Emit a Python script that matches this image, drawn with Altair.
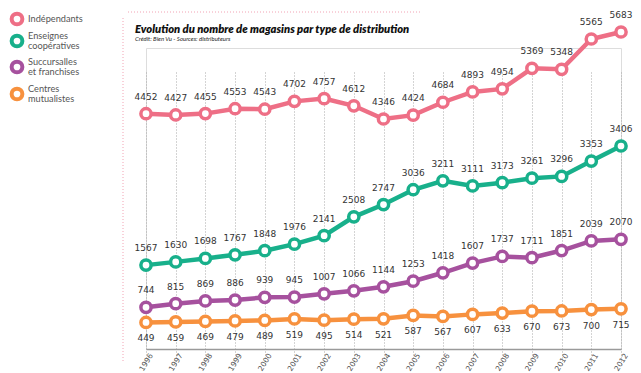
import altair as alt
import pandas as pd

years = list(range(1996, 2013))
series = ["Indépendants", "Enseignes coopératives", "Succursalles et franchises", "Centres mutualistes"]
colors = ["#ee6f86", "#18b08b", "#a6519e", "#f7913e"]

independants = [4452, 4427, 4455, 4553, 4543, 4702, 4757, 4612, 4346, 4424, 4684, 4893, 4954, 5369, 5348, 5565, 5683]
cooperatives = [1567, 1630, 1698, 1767, 1848, 1976, 2141, 2508, 2747, 3036, 3211, 3111, 3173, 3261, 3296, 3353, 3406]
succursales = [744, 815, 869, 886, 939, 945, 1007, 1066, 1144, 1253, 1418, 1607, 1737, 1711, 1851, 2039, 2070]
mutualistes = [449, 459, 469, 479, 489, 519, 495, 514, 521, 587, 567, 607, 633, 670, 673, 700, 715]

TITLE = "Evolution du nombre de magasins par type de distribution"
SUBTITLE = "Crédit: Bien Vu - Sources: distributeurs"

rows = []
for name, vals in zip(series, [independants, cooperatives, succursales, mutualistes]):
    for y, v in zip(years, vals):
        rows.append({"annee": y, "serie": name, "valeur": v})
df = pd.DataFrame(rows)
legend_df = pd.DataFrame({"serie": series, "rang": list(range(len(series)))})

xs = alt.X("annee:Q", scale=alt.Scale(domain=[1996, 2012], nice=False, zero=False),
           axis=alt.Axis(values=years, format="d", labelAngle=-58, grid=True,
                         gridDash=[1, 2], gridColor="#a8a8a8", gridWidth=1,
                         domainColor="#9a9a9a", domainWidth=1.5, ticks=False, tickSize=0,
                         labelFontSize=7.5, labelColor="#505050", labelFont="DejaVu Sans",
                         labelAlign="center", labelBaseline="middle",
                         labelPadding=13, title=None))
# the original infographic is drawn on a slightly uneven vertical scale
ys = alt.Y("valeur:Q", axis=None,
           scale=alt.Scale(domain=[400, 3300, 3406, 4346, 5369, 5565, 5683],
                           range=[277, 128.2, 98, 71, 20.3, -9, -16]))
stroke = alt.Stroke("serie:N", scale=alt.Scale(domain=series, range=colors), legend=None)

base = alt.Chart(df)
lines = base.mark_line(strokeWidth=4.5).encode(x=xs, y=ys, stroke=stroke)
points = base.mark_point(filled=True, fill="white", strokeWidth=3.5, size=105, opacity=1).encode(
    x=xs, y=ys, stroke=stroke)
labels_top = base.transform_filter(alt.datum.serie != "Centres mutualistes").mark_text(
    dy=-17, fontSize=9, font="DejaVu Sans", color="#333333").encode(x=xs, y=ys, text="valeur:Q")
labels_bot = base.transform_filter(alt.datum.serie == "Centres mutualistes").mark_text(
    dy=16, fontSize=9, font="DejaVu Sans", color="#333333").encode(x=xs, y=ys, text="valeur:Q")

# manual legend
ly = alt.Y("rang:Q", axis=None, scale=alt.Scale(domain=[0, 1, 2, 3], range=[-29, -7, 19, 46]))
lbase = alt.Chart(legend_df)
leg_sym = lbase.mark_point(filled=True, fill="white", strokeWidth=4, size=115, opacity=1).encode(
    x=alt.value(-129), y=ly, stroke=stroke)
leg_txt1 = lbase.transform_filter(alt.datum.rang == 0).mark_text(
    align="left", baseline="middle", font="Lato", fontSize=9.2, color="#555555").encode(
    x=alt.value(-118), y=ly, text="serie:N")
leg_txt2 = lbase.transform_filter(alt.datum.rang > 0).transform_calculate(
    lbl="replace(datum.serie, ' ', '|')").mark_text(
    align="left", baseline="middle", font="Lato", fontSize=9.2, color="#555555",
    lineBreak="|", lineHeight=10, dy=-5).encode(
    x=alt.value(-118), y=ly, text="lbl:N")

title = alt.Chart(pd.DataFrame({"t": [TITLE]})).mark_text(
    align="left", baseline="alphabetic", font="Lato", fontWeight=800, fontStyle="italic",
    fontSize=11.2, color="#111111").encode(text="t:N", x=alt.value(-11), y=alt.value(-15))
subtitle = alt.Chart(pd.DataFrame({"t": [SUBTITLE]})).mark_text(
    align="left", baseline="alphabetic", font="Lato", fontStyle="italic",
    fontSize=6, color="#222222").encode(text="t:N", x=alt.value(-11), y=alt.value(-7))

frame_left = alt.Chart(pd.DataFrame({"a": [0]})).mark_rule(
    color="#f2a3b4", strokeDash=[1, 2], strokeWidth=1).encode(
    x=alt.value(-23), y=alt.value(-30), y2=alt.value(315))
frame_top = alt.Chart(pd.DataFrame({"a": [0]})).mark_rule(
    color="#f2a3b4", strokeDash=[1, 2], strokeWidth=1).encode(
    x=alt.value(-18), x2=alt.value(274), y=alt.value(-36))

chart = alt.layer(frame_left, frame_top, title, subtitle, lines, points, labels_top, labels_bot,
                  leg_sym, leg_txt1, leg_txt2).resolve_scale(y="independent").properties(
    width=475, height=301,
    autosize=alt.AutoSizeParams(type="none"),
    padding={"left": 138, "top": 40, "right": 12, "bottom": 24},
).configure_view(stroke=None).configure(background="white")

chart.save("out.html", embed_options={"renderer": "svg", "actions": False})
